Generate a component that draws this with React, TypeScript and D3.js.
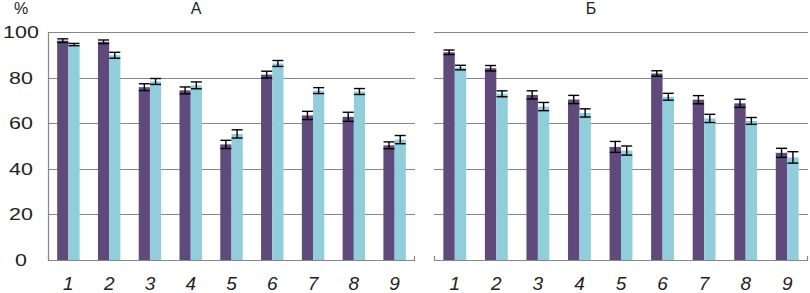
import React from "react";
import * as d3 from "d3";

const categories = ["1", "2", "3", "4", "5", "6", "7", "8", "9"];
const panelTitles = ["А", "Б"];
const yTicks = [0, 20, 40, 60, 80, 100];

const aPurple = [96.2, 95.7, 75.8, 74.4, 50.7, 81.3, 63.4, 62.8, 50.3];
const aPurpleErr = [0.8, 0.8, 1.5, 1.5, 1.8, 1.5, 1.8, 2.0, 1.5];
const aBlue = [94.5, 89.8, 78.3, 76.6, 55.3, 86.2, 74.3, 73.9, 52.8];
const aBlueErr = [0.5, 1.3, 1.3, 1.5, 1.8, 1.3, 1.3, 1.3, 1.8];

const bPurple = [91.1, 84.1, 72.4, 70.4, 49.6, 81.8, 70.3, 68.7, 47.0];
const bPurpleErr = [1.0, 1.2, 1.8, 1.8, 2.4, 1.2, 1.8, 1.8, 2.0];
const bBlue = [84.4, 72.9, 67.3, 64.5, 48.0, 71.6, 62.1, 61.0, 45.0];
const bBlueErr = [1.0, 1.3, 1.8, 1.8, 2.0, 1.5, 1.8, 1.5, 2.5];

const PURPLE = "#604a7b";
const BLUE = "#92cddc";
const GRID = "#878787";

const W = 810;
const H = 293;
const Y0 = 260;
const Y1 = 32;

const y = d3.scaleLinear().domain([0, 100]).range([Y0, Y1]);

type PanelProps = {
  x0: number;
  x1: number;
  title: string;
  titleX: number;
  leftAxis: boolean;
  purple: number[];
  purpleErr: number[];
  blue: number[];
  blueErr: number[];
};

function Panel({ x0, x1, title, titleX, leftAxis, purple, purpleErr, blue, blueErr }: PanelProps) {
  const x = d3.scaleBand<string>().domain(categories).range([x0, x1]).paddingInner(0.45).paddingOuter(0.225);
  const sub = d3.scaleBand<string>().domain(["p", "b"]).range([0, x.bandwidth()]);
  const series = [
    { key: "p", vals: purple, errs: purpleErr, color: PURPLE },
    { key: "b", vals: blue, errs: blueErr, color: BLUE },
  ];
  return (
    <g>
      {yTicks.filter((t) => t > 0).map((t) => (
        <line key={t} x1={x0} x2={x1} y1={Math.round(y(t)) + 0.5} y2={Math.round(y(t)) + 0.5} stroke={GRID} strokeWidth={1} />
      ))}
      {categories.map((c, i) =>
        series.map((s) => {
          const bx = (x(c) as number) + (sub(s.key) as number);
          const bw = sub.bandwidth();
          return (
            <rect key={c + s.key} x={bx} y={y(s.vals[i])} width={bw} height={Y0 - y(s.vals[i])} fill={s.color} />
          );
        })
      )}
      {categories.map((c, i) =>
        series.map((s) => {
          const bx = (x(c) as number) + (sub(s.key) as number);
          const bw = sub.bandwidth();
          const cx = bx + bw / 2;
          const hi = y(s.vals[i] + s.errs[i]);
          const lo = y(s.vals[i] - s.errs[i]);
          const cw = 5.5;
          return (
            <g key={"e" + c + s.key} stroke="#000" strokeWidth={1.4}>
              <line x1={cx} x2={cx} y1={hi} y2={lo} />
              <line x1={cx - cw} x2={cx + cw} y1={hi} y2={hi} />
              <line x1={cx - cw} x2={cx + cw} y1={lo} y2={lo} />
            </g>
          );
        })
      )}
      <line x1={x0} x2={x1} y1={Y0 + 0.5} y2={Y0 + 0.5} stroke={GRID} strokeWidth={1.2} />
      {leftAxis && <line x1={x0 + 0.5} x2={x0 + 0.5} y1={Y1} y2={Y0 + 0.5} stroke={GRID} strokeWidth={1.2} />}
      <line x1={x0 + 0.5} x2={x0 + 0.5} y1={Y0 - 4} y2={Y0 + 0.5} stroke={GRID} strokeWidth={1.2} />
      <line x1={x1 - 0.5} x2={x1 - 0.5} y1={Y0 - 4} y2={Y0 + 0.5} stroke={GRID} strokeWidth={1.2} />
      {categories.map((c) => (
        <text
          key={"l" + c}
          x={(x(c) as number) + x.bandwidth() / 2}
          y={289.5}
          textAnchor="middle"
          fontStyle="italic"
          fontSize={19}
          fill="#222"
        >
          {c}
        </text>
      ))}
      <text x={titleX} y={14} textAnchor="middle" fontSize={16} fill="#222">
        {title}
      </text>
    </g>
  );
}

export default function App() {
  const xA0 = 48;
  const xA1 = 415;
  const xB0 = 434;
  const xB1 = 808;
  return (
    <svg
      width={W}
      height={H}
      style={{ position: "absolute", left: 0, top: 0, background: "#fff", fontFamily: "'Liberation Sans', Arial, sans-serif" }}
    >
      <rect x={0} y={0} width={W} height={H} fill="#fff" />
      <text x={21} y={14} textAnchor="middle" fontSize={16} fill="#222">
        %
      </text>
      {yTicks.map((t) => (
        <g key={t} transform={`translate(21,${y(t) + 6}) scale(1.3,1)`}>
          <text x={0} y={0} textAnchor="middle" fontSize={16.5} fill="#222">
            {t}
          </text>
        </g>
      ))}
      <Panel
        x0={xA0}
        x1={xA1}
        title={panelTitles[0]}
        titleX={196}
        leftAxis={true}
        purple={aPurple}
        purpleErr={aPurpleErr}
        blue={aBlue}
        blueErr={aBlueErr}
      />
      <Panel
        x0={xB0}
        x1={xB1}
        title={panelTitles[1]}
        titleX={591}
        leftAxis={false}
        purple={bPurple}
        purpleErr={bPurpleErr}
        blue={bBlue}
        blueErr={bBlueErr}
      />
    </svg>
  );
}
